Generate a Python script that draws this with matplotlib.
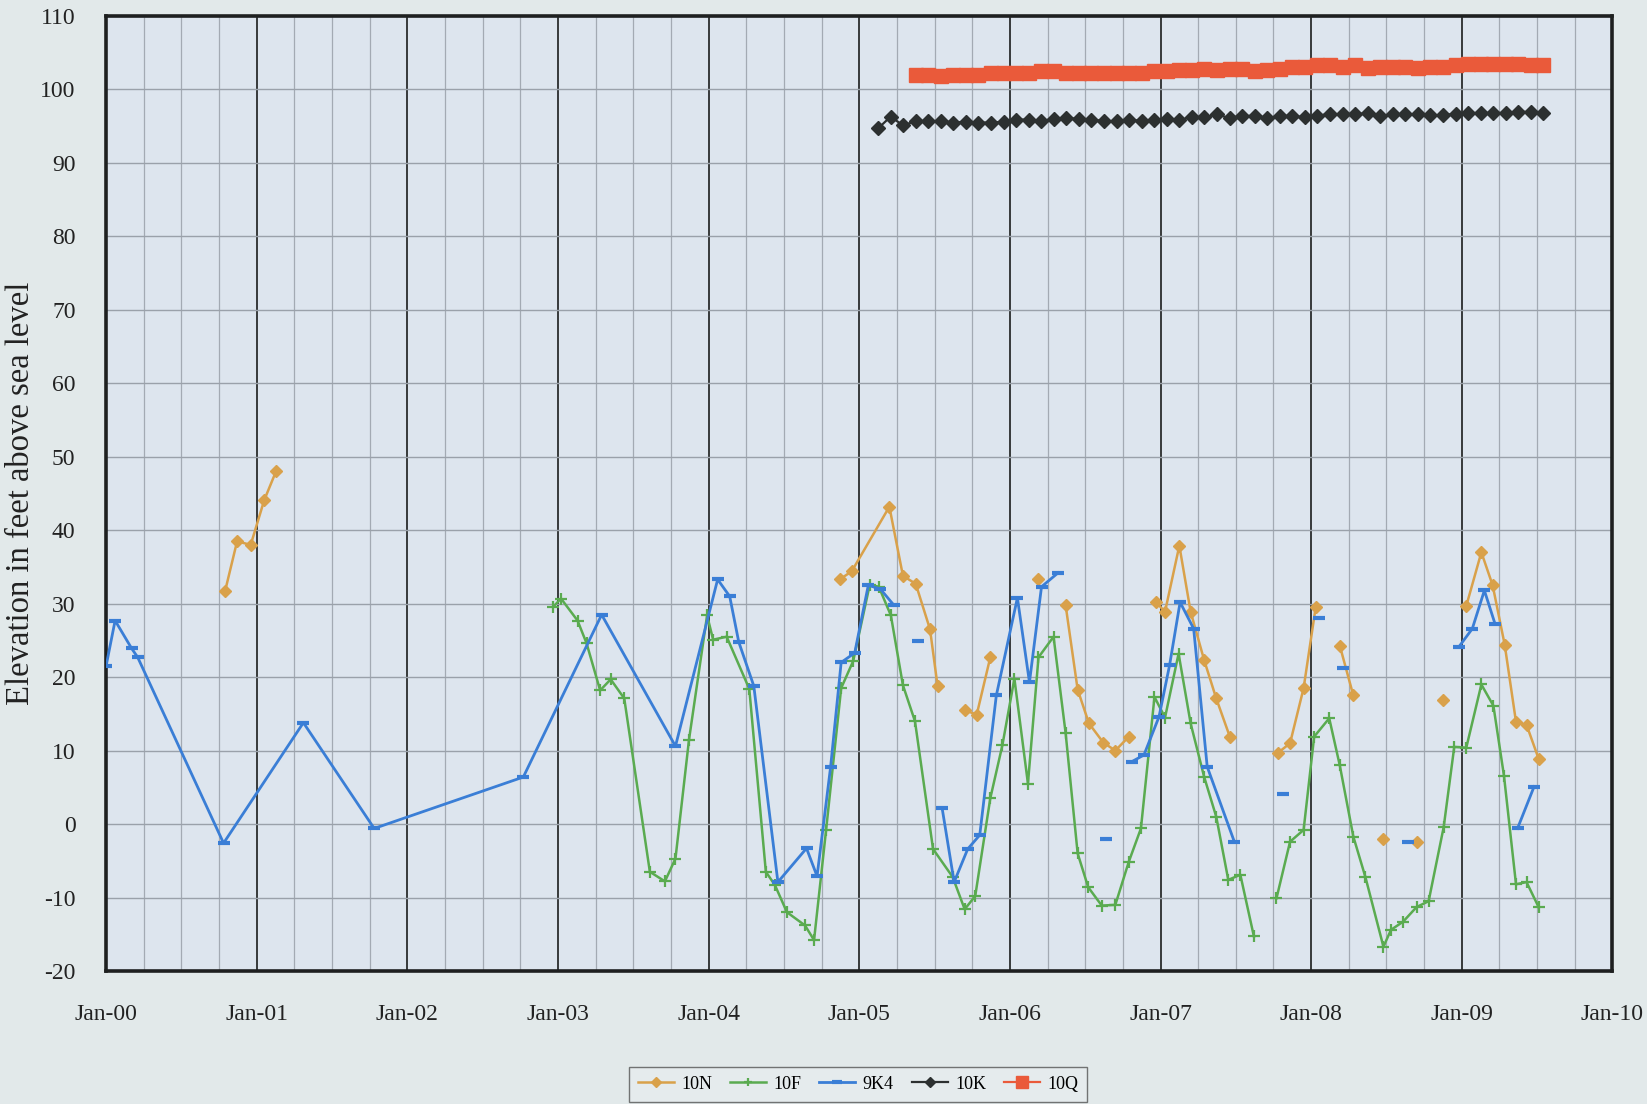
import numpy as np
import matplotlib
matplotlib.use("Agg")
import matplotlib.pyplot as plt
from matplotlib.ticker import FixedLocator, MultipleLocator

nan = np.nan

# ---------------- data (x = decimal year) ----------------
x_10N = [2000.79, 2000.87, 2000.96, 2001.05, 2001.13, nan,
         2004.87, 2004.95, 2005.20, 2005.29, 2005.375, 2005.47, 2005.52, nan,
         2005.70, 2005.78, 2005.87, nan,
         2006.19, nan,
         2006.37, 2006.45, 2006.525, 2006.62, 2006.70, 2006.79, nan,
         2006.97, 2007.03, 2007.125, 2007.20, 2007.29, 2007.37, 2007.46, nan,
         2007.78, 2007.86, 2007.95, 2008.03, nan,
         2008.19, 2008.28, nan,
         2008.475, nan, 2008.70, nan, 2008.875, nan,
         2009.03, 2009.13, 2009.205, 2009.285, 2009.36, 2009.43, 2009.51]
y_10N = [31.7, 38.5, 38.0, 44.1, 48.1, nan,
         33.3, 34.4, 43.2, 33.8, 32.7, 26.5, 18.8, nan,
         15.5, 14.9, 22.7, nan,
         33.4, nan,
         29.8, 18.3, 13.7, 11.1, 10.0, 11.9, nan,
         30.2, 28.9, 37.9, 28.9, 22.3, 17.1, 11.9, nan,
         9.7, 11.0, 18.5, 29.5, nan,
         24.3, 17.5, nan,
         -2.1, nan, -2.5, nan, 16.9, nan,
         29.7, 37.0, 32.5, 24.4, 13.9, 13.5, 8.9]

x_10F = [2002.97, 2003.02, 2003.13, 2003.19, 2003.28, 2003.35, 2003.44, 2003.61,
         2003.71, 2003.78, 2003.87, 2003.99, 2004.03, 2004.12, 2004.27, 2004.38,
         2004.44, 2004.52, 2004.64, 2004.70, 2004.78, 2004.88, 2004.96, 2005.07,
         2005.13, 2005.21, 2005.29, 2005.37, 2005.49, 2005.62, 2005.70, 2005.77,
         2005.87, 2005.95, 2006.03, 2006.12, 2006.19, 2006.29, 2006.37, 2006.45,
         2006.52, 2006.61, 2006.70, 2006.79, 2006.87, 2006.96, 2007.03, 2007.12,
         2007.20, 2007.29, 2007.37, 2007.45, 2007.53, 2007.62, nan,
         2007.77, 2007.86, 2007.95, 2008.02, 2008.12, 2008.19, 2008.28, 2008.36,
         2008.48, 2008.53, 2008.61, 2008.70, 2008.78, 2008.88, 2008.95, 2009.03,
         2009.13, 2009.21, 2009.28, 2009.36, 2009.43, 2009.51]
y_10F = [29.6, 30.7, 27.7, 24.6, 18.2, 19.7, 17.1, -6.5,
         -7.8, -4.7, 11.5, 28.4, 25.1, 25.5, 18.4, -6.5,
         -8.3, -12.0, -13.8, -15.8, -0.8, 18.5, 22.2, 32.6,
         32.3, 28.4, 18.9, 14.0, -3.4, -7.2, -11.6, -9.8,
         3.5, 10.7, 19.8, 5.5, 22.7, 25.5, 12.4, -4.0,
         -8.6, -11.1, -11.0, -5.1, -0.6, 17.3, 14.5, 23.2,
         13.7, 6.4, 1.0, -7.6, -6.9, -15.3, nan,
         -10.1, -2.4, -0.8, 11.9, 14.4, 8.0, -1.7, -7.2,
         -16.7, -14.4, -13.3, -11.3, -10.5, -0.4, 10.5, 10.4,
         19.0, 16.1, 6.6, -8.2, -7.9, -11.3]

x_9K4 = [2000.00, 2000.06, 2000.17, 2000.21, 2000.78, 2001.31, 2001.78, 2002.77,
         2003.29, 2003.78, 2004.06, 2004.14, 2004.20, 2004.30, 2004.46, 2004.65,
         2004.72, 2004.81, 2004.88, 2004.97, 2005.06, 2005.14, 2005.23, nan,
         2005.39, nan,
         2005.55, 2005.63, 2005.72, 2005.80, 2005.91, 2006.05, 2006.13, 2006.21,
         2006.32, nan,
         2006.64, nan,
         2006.81, 2006.89, 2006.99, 2007.06, 2007.13, 2007.22, 2007.31, 2007.49, nan,
         2007.81, nan, 2008.05, nan, 2008.21, nan, 2008.64, nan,
         2008.98, 2009.07, 2009.15, 2009.22, nan,
         2009.37, 2009.48]
y_9K4 = [21.5, 27.7, 23.9, 22.7, -2.6, 13.8, -0.6, 6.4,
         28.5, 10.6, 33.3, 31.0, 24.8, 18.8, -7.9, -3.3,
         -7.1, 7.8, 22.0, 23.3, 32.5, 32.0, 29.8, nan,
         24.9, nan,
         2.2, -7.9, -3.4, -1.5, 17.5, 30.8, 19.3, 32.3,
         34.2, nan,
         -2.0, nan,
         8.5, 9.4, 14.6, 21.6, 30.2, 26.6, 7.8, -2.4, nan,
         4.1, nan, 28.1, nan, 21.2, nan, -2.5, nan,
         24.1, 26.6, 31.8, 27.3, nan,
         -0.6, 5.1]

# monthly series (first month given as year, month)
start_10K = (2005, 2)
y_10K = [94.7, 96.3, 95.1, 95.7, 95.7, 95.7, 95.5, 95.6, 95.5, 95.5, 95.6,
         95.9, 95.9, 95.7, 96.0, 96.1, 96.0, 95.9, 95.7, 95.7, 95.9, 95.7, 95.9,
         96.0, 95.9, 96.2, 96.2, 96.6, 96.1, 96.4, 96.4, 96.1, 96.4, 96.4, 96.2,
         96.4, 96.7, 96.6, 96.6, 96.8, 96.4, 96.6, 96.6, 96.6, 96.5, 96.5, 96.7,
         96.8, 96.8, 96.8, 96.8, 97.0, 96.9, 96.8]
start_10Q = (2005, 5)
y_10Q = [102.0, 102.0, 101.9, 102.0, 102.0, 102.0, 102.2, 102.3,
         102.3, 102.3, 102.5, 102.5, 102.3, 102.2, 102.2, 102.2, 102.2, 102.2, 102.3, 102.5,
         102.5, 102.7, 102.7, 102.8, 102.7, 102.8, 102.8, 102.5, 102.7, 102.8, 103.0, 103.1,
         103.3, 103.3, 103.0, 103.3, 102.9, 103.0, 103.0, 103.0, 102.9, 103.0, 103.1, 103.3,
         103.4, 103.4, 103.4, 103.4, 103.4, 103.3, 103.3]

year_ticks = list(range(2000, 2011))
year_labels = ["Jan-%02d" % (y % 100) for y in year_ticks]
y_ticks = list(range(-20, 111, 10))


def monthly_x(start, n):
    y0, m0 = start
    return [y0 + (m0 - 0.5) / 12 + i / 12 for i in range(n)]


x_10K = monthly_x(start_10K, len(y_10K))
x_10Q = monthly_x(start_10Q, len(y_10Q))

# ---------------- figure ----------------
plt.rcParams['font.family'] = ['Liberation Serif', 'DejaVu Serif']
plt.rcParams['axes.unicode_minus'] = False

fig = plt.figure(figsize=(16.47, 11.04), dpi=100, facecolor='#e2e9ea')
ax = fig.add_axes([0.0644, 0.1205, 0.9146, 0.865])
ax.set_facecolor('#dde5ee')

ax.set_xlim(2000, 2010)
ax.set_ylim(-20, 110)

# grid
ax.xaxis.set_major_locator(FixedLocator(year_ticks))
ax.xaxis.set_minor_locator(MultipleLocator(0.25))
ax.set_yticks(y_ticks)
ax.set_xticklabels(year_labels)
ax.grid(which='minor', axis='x', color='#a3aab3', lw=0.9, zorder=0)
ax.grid(which='major', axis='x', color='#2a2d2d', lw=1.3, zorder=0.5)
ax.grid(which='major', axis='y', color='#9aa1aa', lw=1.0, zorder=0)
ax.set_axisbelow(True)

ax.tick_params(axis='both', which='both', length=0, labelsize=17, colors='#222222')
ax.tick_params(axis='x', pad=24)
ax.tick_params(axis='y', pad=22)

for sp in ax.spines.values():
    sp.set_linewidth(2.6)
    sp.set_color('#1e2020')

ax.set_ylabel('Elevation in feet above sea level', fontsize=23.5, color='#222222', labelpad=3)

# series
c10N = '#d9a14a'
c10F = '#5aab50'
c9K4 = '#3a7ed6'
c10K = '#2c3030'
c10Q = '#ea5a3a'

ax.plot(x_10N, y_10N, color=c10N, lw=1.8, marker='D', ms=6, mec=c10N, mfc=c10N,
        label='10N', zorder=3)
ax.plot(x_10F, y_10F, color=c10F, lw=1.8, marker='+', ms=8, mew=1.6, mec=c10F,
        label='10F', zorder=3)
ax.plot(x_9K4, y_9K4, color=c9K4, lw=2.0, marker='_', ms=9, mew=3, mec=c9K4,
        label='9K4', zorder=4)
ax.plot(x_10K, y_10K, color=c10K, lw=1.6, marker='D', ms=7, mec=c10K, mfc=c10K,
        label='10K', zorder=3)
ax.plot(x_10Q, y_10Q, color=c10Q, lw=1.6, marker='s', ms=10, mec=c10Q, mfc=c10Q,
        label='10Q', zorder=3)

leg = fig.legend(loc='upper center', bbox_to_anchor=(0.521, 0.042), ncol=5,
                 fontsize=13, frameon=True, fancybox=False, edgecolor='#555555',
                 facecolor='#e6ecef', handlelength=2.0, columnspacing=1.0,
                 handletextpad=0.4, borderpad=0.5, markerscale=0.8)
leg.get_frame().set_linewidth(1.0)

fig.savefig('out.png', dpi=100, facecolor=fig.get_facecolor())
